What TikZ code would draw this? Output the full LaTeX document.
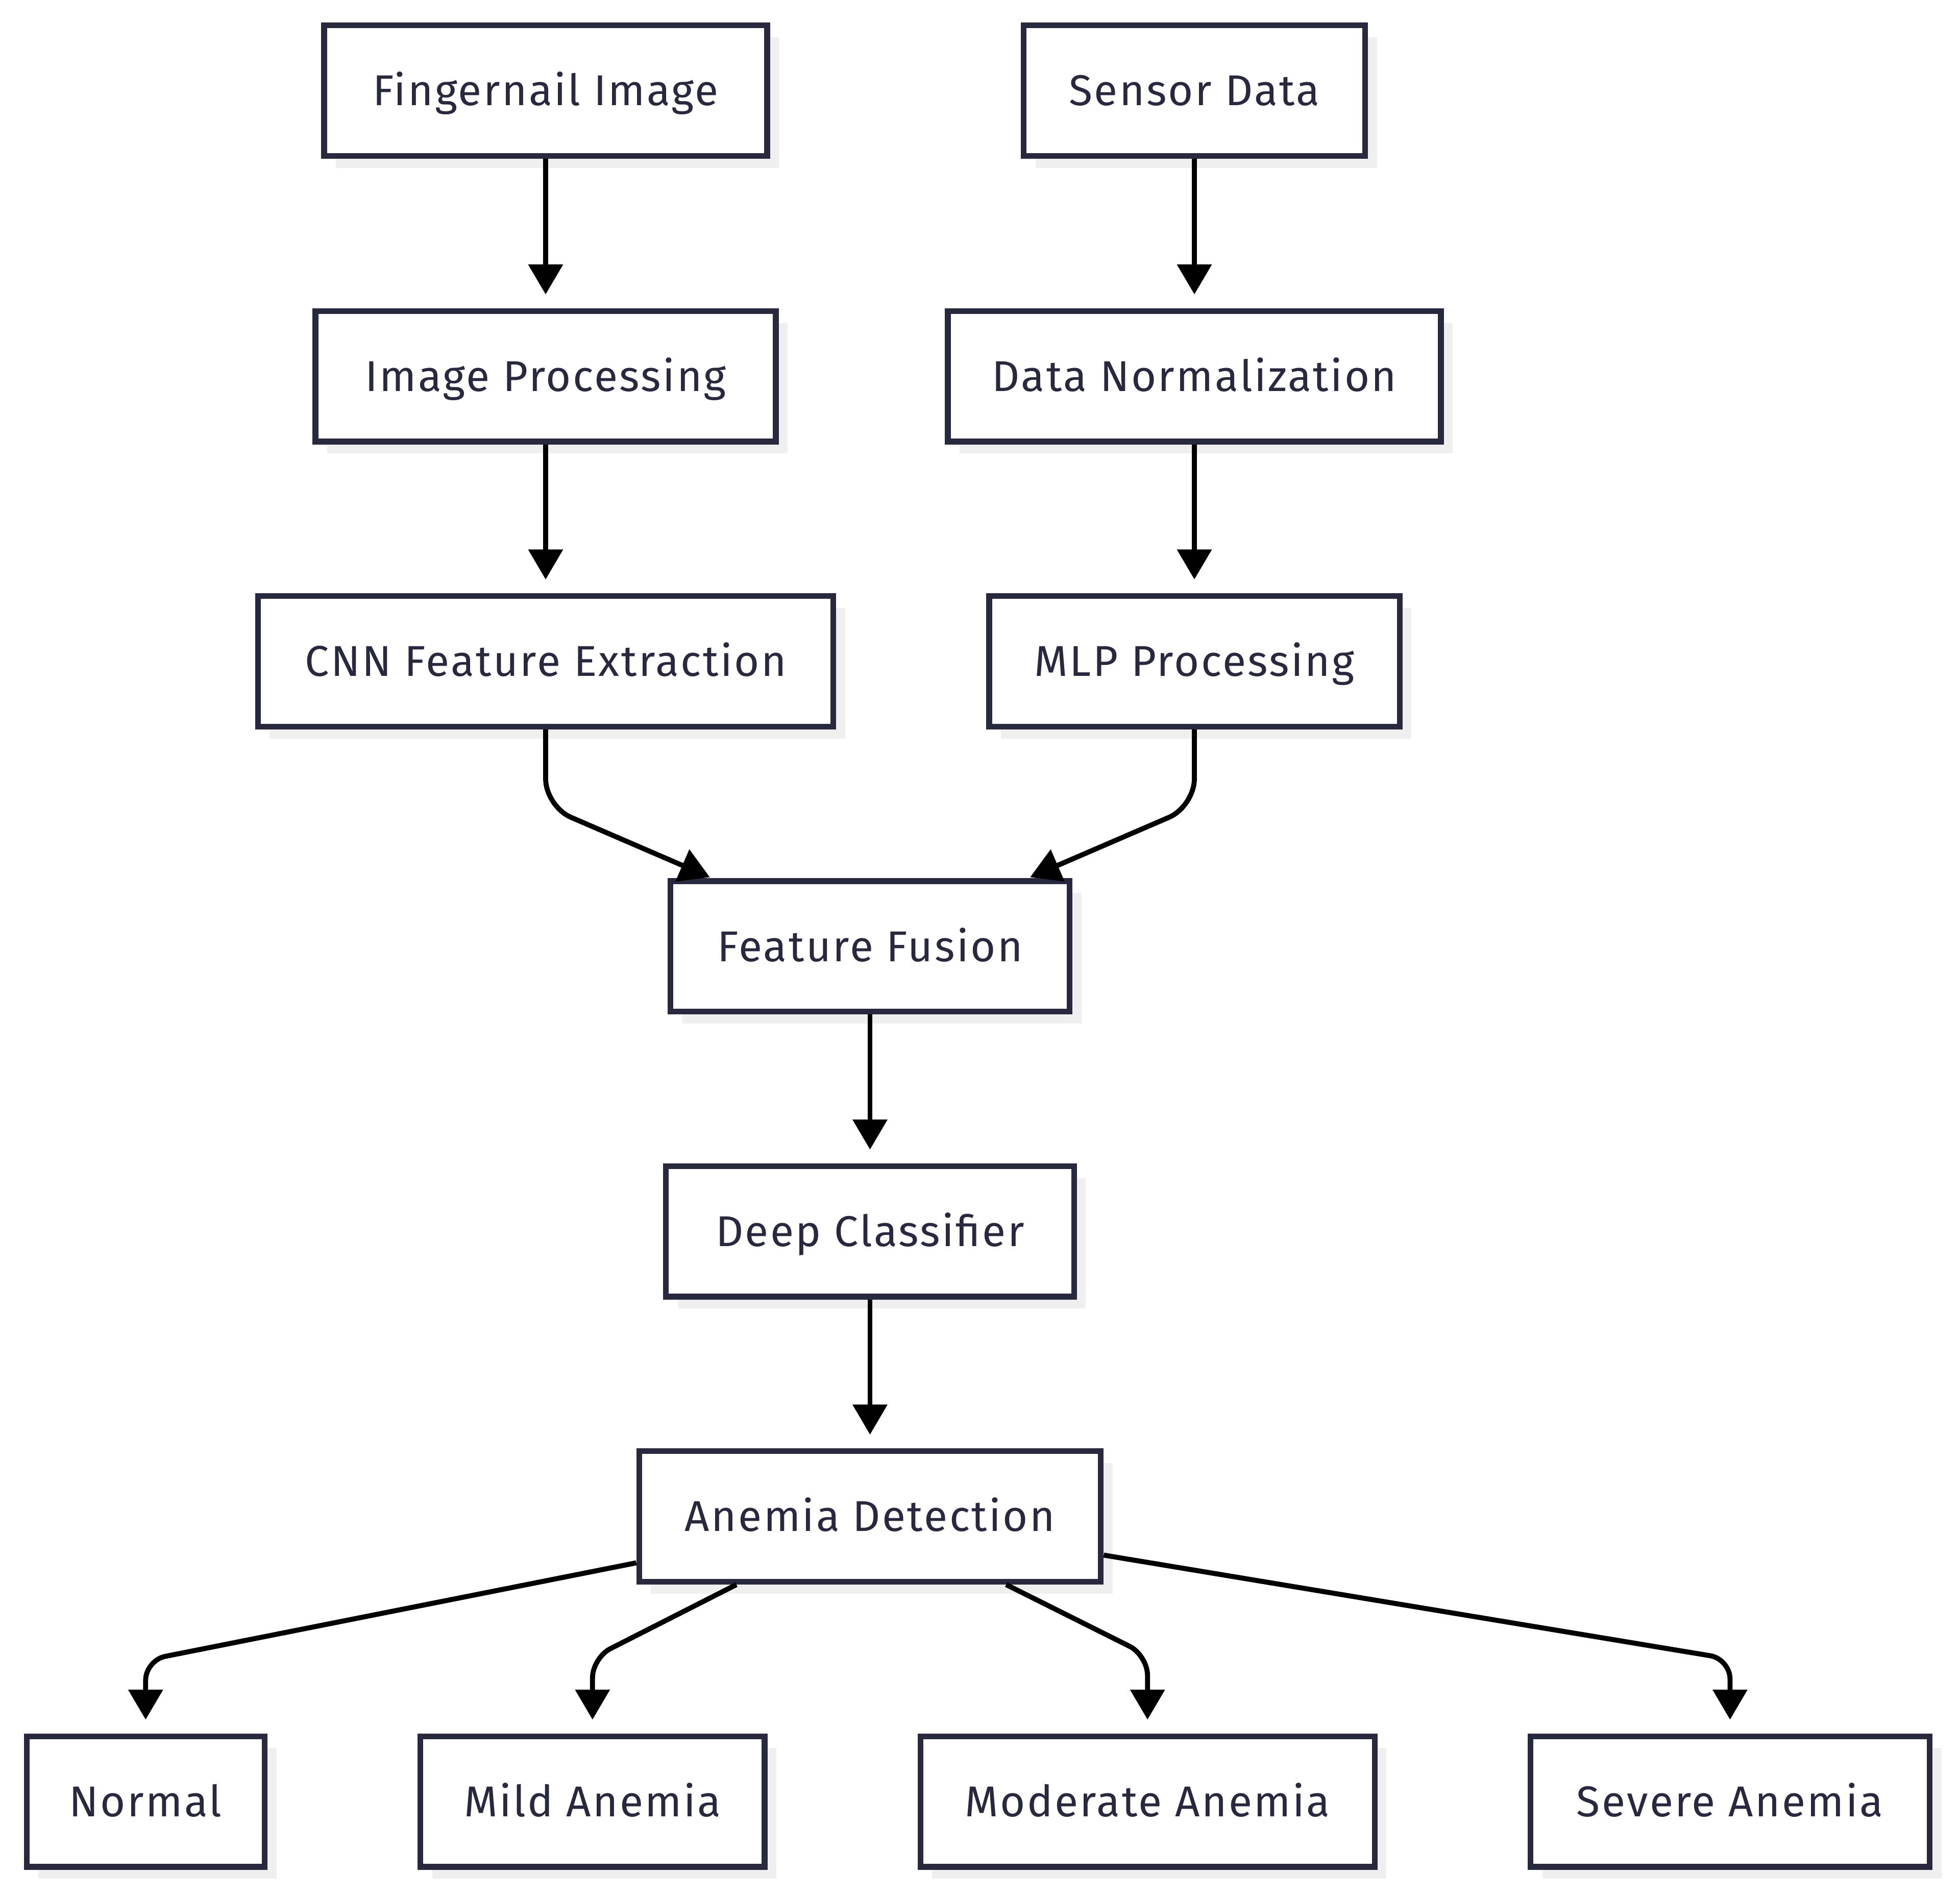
\documentclass[tikz,border=0pt]{standalone}
\usepackage{fontspec}
\setmainfont{Fira Sans}[LetterSpace=4]
\usetikzlibrary{arrows.meta}
\definecolor{ink}{RGB}{40,40,62}
\definecolor{shade}{RGB}{239,239,239}
\tikzset{
  box/.style={draw=ink, line width=4.6pt, fill=white, text=ink, inner sep=0pt,
    minimum height=104.4pt, text height=23.8pt, text depth=0pt,
    font=\fontsize{34.5}{40}\selectfont,
    preaction={draw=none, fill=shade, transform canvas={shift={(9.5pt,-9.5pt)}}}},
  arr/.style={draw=black, line width=4pt, -{Triangle[length=24pt,width=27pt]}},
}
\begin{document}
\begin{tikzpicture}[x=1pt,y=-1pt]
\useasboundingbox (0,0) rectangle (1568,1518);
\node[box, minimum width=354.4pt] (fing) at (436.5,72.5) {Fingernail Image};
\node[box, minimum width=273.4pt] (sens) at (955.5,72.5) {Sensor Data};
\node[box, minimum width=368.4pt] (imgp) at (436.5,301) {Image Processing};
\node[box, minimum width=394.4pt] (norm) at (955.5,301) {Data Normalization};
\node[box, minimum width=460.4pt] (cnn) at (436.5,529) {CNN Feature Extraction};
\node[box, minimum width=328.4pt] (mlp) at (955.5,529) {MLP Processing};
\node[box, minimum width=319.4pt] (ffus) at (696,757) {Feature Fusion};
\node[box, minimum width=326.4pt] (deep) at (696,985) {Deep Classifier};
\node[box, minimum width=369.4pt] (det) at (696,1213) {Anemia Detection};
\node[box, minimum width=190.4pt] (nor) at (116.5,1441) {Normal};
\node[box, minimum width=275.4pt] (mild) at (474,1441) {Mild Anemia};
\node[box, minimum width=363.4pt] (mod) at (918,1441) {Moderate Anemia};
\node[box, minimum width=319.4pt] (sev) at (1384,1441) {Severe Anemia};

\coordinate (c1) at (436.5,645);
\coordinate (c2) at (955.5,645);
\coordinate (k1) at (116.5,1328);
\coordinate (k2) at (474,1326);
\coordinate (k3) at (918,1324);
\coordinate (k4) at (1384,1327);

\draw[arr, shorten >=11pt] (fing) -- (imgp);
\draw[arr, shorten >=11pt] (sens) -- (norm);
\draw[arr, shorten >=11pt] (imgp) -- (cnn);
\draw[arr, shorten >=11pt] (norm) -- (mlp);
\draw[arr, rounded corners=22pt, shorten >=2pt] (cnn) -- (c1) -- (ffus);
\draw[arr, rounded corners=22pt, shorten >=2pt] (mlp) -- (c2) -- (ffus);
\draw[arr, shorten >=11pt] (ffus) -- (deep);
\draw[arr, shorten >=11pt] (deep) -- (det);
\draw[arr, rounded corners=16pt, shorten >=11pt] (det) -- (k1) -- (nor);
\draw[arr, rounded corners=16pt, shorten >=11pt] (det) -- (k2) -- (mild);
\draw[arr, rounded corners=16pt, shorten >=11pt] (det) -- (k3) -- (mod);
\draw[arr, rounded corners=16pt, shorten >=11pt] (det) -- (k4) -- (sev);
\end{tikzpicture}
\end{document}
